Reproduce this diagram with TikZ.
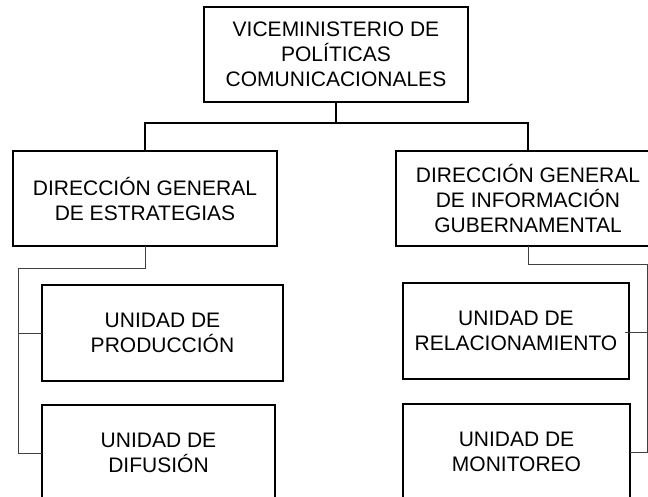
\documentclass[tikz,border=0pt]{standalone}
\usepackage{fontspec}
\setmainfont{Liberation Sans}
\usepackage{tikz}

\begin{document}
\begin{tikzpicture}
		[x=1pt,y=-1pt,line cap=rect,
		%Styles
		unit box/.style={draw=black,line width=1.5pt,rectangle,inner sep=0pt,align=center,
			font=\fontsize{21}{25}\selectfont,minimum height=95pt},
		main line/.style={draw=black,line width=1.5pt},
		branch line/.style={draw=black!75,line width=0.8pt}
		]
		
		\useasboundingbox (0,0) rectangle (648,497);
		\clip (0,0) rectangle (648,497);
		
		%The graphic
		\node[unit box,minimum width=264pt] (vice) at (336,54.5) {VICEMINISTERIO DE\\POLÍTICAS\\COMUNICACIONALES};
		
		\node[unit box,minimum width=264pt] (dgE) at (145,198.5) {DIRECCIÓN GENERAL\\DE ESTRATEGIAS};
		\node[unit box,minimum width=264pt] (dgI) at (528,198.5) {DIRECCIÓN GENERAL\\DE INFORMACIÓN\\GUBERNAMENTAL};
		
		\node[unit box,minimum width=241pt,minimum height=96pt] (uProd) at (162.5,333) {UNIDAD DE\\PRODUCCIÓN};
		\node[unit box,minimum width=233pt,minimum height=96pt] (uDif) at (158.5,453) {UNIDAD DE\\DIFUSIÓN};
		
		\node[unit box,minimum width=226pt,minimum height=96pt] (uRel) at (516,331) {UNIDAD DE\\RELACIONAMIENTO};
		\node[unit box,minimum width=227pt,minimum height=96pt] (uMon) at (516.5,452) {UNIDAD DE\\MONITOREO};
		
		%Connectors
		\coordinate (topbus) at (336,123);
		\draw[main line] (vice.south) -- (topbus);
		\draw[main line] (topbus) -| (dgE.north);
		\draw[main line] (topbus) -| (dgI.north);
		
		\coordinate (lbus) at (18,268);
		\draw[branch line] (dgE.south) |- (lbus) |- (uProd.west);
		\draw[branch line] (lbus) |- (uDif.west);
		
		\coordinate (rbus) at (647,264);
		\draw[branch line] (dgI.south) |- (rbus) |- ([xshift=-4pt,yshift=-1pt]uRel.east);
		\draw[branch line] (rbus) |- (uMon.east);
	\end{tikzpicture}
\end{document}
